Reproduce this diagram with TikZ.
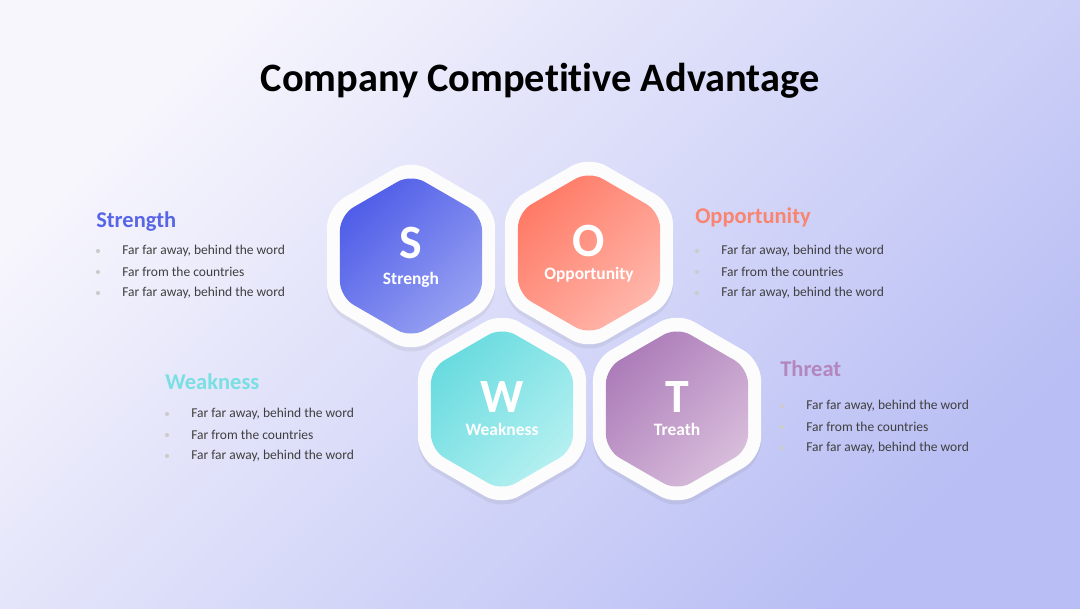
\documentclass[tikz,border=0pt]{standalone}
\usepackage{fontspec}
\setmainfont{Carlito}[Ligatures=NoCommon]
\usetikzlibrary{shapes.geometric,shadows}

\definecolor{bgA}{HTML}{F7F6FD}
\definecolor{bgB}{HTML}{B9BEF4}
\definecolor{sA}{HTML}{4F5DE8}
\definecolor{sB}{HTML}{97A1F2}
\definecolor{oA}{HTML}{FF7A66}
\definecolor{oB}{HTML}{FFB7AC}
\definecolor{wA}{HTML}{68DBDF}
\definecolor{wB}{HTML}{B5F0F1}
\definecolor{tA}{HTML}{AC7CB9}
\definecolor{tB}{HTML}{D8BDDB}
\definecolor{sH}{HTML}{5865E6}
\definecolor{oH}{HTML}{F98470}
\definecolor{wH}{HTML}{7ADFE3}
\definecolor{tH}{HTML}{B386BE}
\definecolor{bodytext}{HTML}{3F3F3F}

\begin{document}
\begin{tikzpicture}[
    x=0.025cm, y=-0.025cm,
    hexout/.style={regular polygon, regular polygon sides=6, shape border rotate=30,
      minimum size=4.85cm, inner sep=0pt, rounded corners=14pt, fill=white!99!black,
      drop shadow={shadow xshift=0pt, shadow yshift=-3pt, opacity=0.10, fill=black!60}},
    hexin/.style={regular polygon, regular polygon sides=6, shape border rotate=30,
      minimum size=4.1cm, inner sep=0pt, rounded corners=11pt},
    letter/.style={text=white, font=\bfseries\fontsize{34}{34}\selectfont},
    hexlabel/.style={text=white, font=\bfseries\fontsize{12.4}{13}\selectfont},
    heading/.style={anchor=west, inner sep=0pt, font=\bfseries\fontsize{16}{17}\selectfont},
    bullet/.style={anchor=west, inner sep=0pt, text=bodytext, font=\fontsize{9.6}{10}\selectfont},
    dot/.style={circle, fill=black!20, inner sep=0pt, minimum size=3pt}
  ]
    % background
    \fill[top color=bgA, bottom color=bgB, shading angle=45] (0,0) rectangle (1080,608);
    \useasboundingbox (0,0) rectangle (1080,608);

    \node[font=\bfseries\fontsize{28.7}{31}\selectfont] (title) at (540,81) {Company Competitive Advantage};

    % hexagons
    \foreach \n/\x/\y/\ca/\cb/\ly/\by/\t in {S/411/256/sA/sB/243/280/Strengh,
        O/589/253/oA/oB/241/275/Opportunity,
        W/502/409/wA/wB/397/429/Weakness,
        T/677/409/tA/tB/397/429/Treath} {
      \node[hexout] (\n-out) at (\x,\y) {};
      \node[hexin, top color=\ca, bottom color=\cb, shading angle=45] (\n-hex) at (\x,\y) {};
      \node[letter] (\n-letter) at (\x,\ly) {\n};
      \node[hexlabel] (\n-label) at (\x,\by) {\t};
    }

    % text blocks
    \foreach \n/\x/\hy/\by/\c/\h in {S/96/222/251/sH/Strength,
        O/695/217/251/oH/Opportunity,
        W/165/382/414/wH/Weakness,
        T/780/369/406/tH/Threat} {
      \node[heading, text=\c] (\n-head) at (\x,\hy) {\h};
      \foreach \i/\s in {0/{Far far away, behind the word}, 1/{Far from the countries}, 2/{Far far away, behind the word}} {
        \node[dot] (\n-dot\i) at (\x+2,\by+21*\i) {};
        \node[bullet] (\n-item\i) at (\x+26,\by+21*\i) {\s};
      }
    }
  \end{tikzpicture}
\end{document}
